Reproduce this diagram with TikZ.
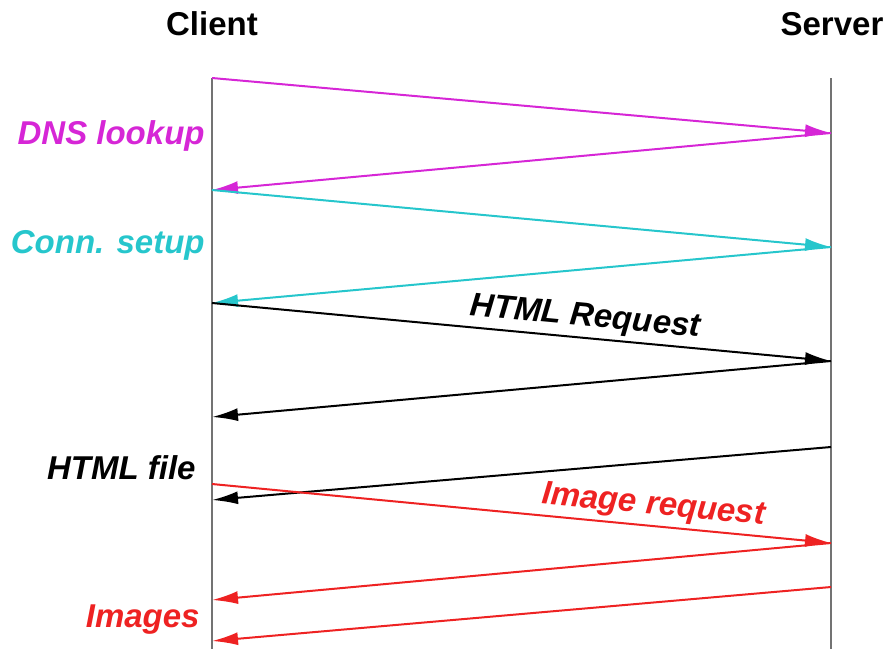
\documentclass[tikz,border=0pt]{standalone}
\usepackage{fontspec}
\setmainfont{Liberation Sans}
\usetikzlibrary{arrows.meta}
\definecolor{dnscol}{RGB}{214,38,214}
\definecolor{conncol}{RGB}{38,198,204}
\definecolor{imgcol}{RGB}{238,34,34}
\definecolor{linecol}{RGB}{115,115,115}

\begin{document}
\begin{tikzpicture}[
    x=0.5pt, y=-0.5pt,
    font=\fontsize{16.5}{19}\selectfont\bfseries,
    lifeline/.style={draw=linecol, line width=1pt},
    arrow/.style={-{Latex[length=13pt, width=6.5pt]}, line width=1pt},
    tag/.style={font=\fontsize{16.5}{19}\selectfont\bfseries\itshape, anchor=east, inner sep=0pt},
    msgtag/.style={font=\fontsize{16.5}{19}\selectfont\bfseries\itshape, sloped, above, inner sep=2pt}
]
\useasboundingbox (0,0) rectangle (887,649);
% endpoints on the two lifelines
\coordinate (ctop) at (212,78);
\coordinate (cbot) at (212,649);
\coordinate (stop) at (831,78);
\coordinate (sbot) at (831,649);
\coordinate (c1) at (212,78);
\coordinate (c2) at (212,190);
\coordinate (c3) at (212,303);
\coordinate (c4) at (212,417);
\coordinate (c5) at (212,484);
\coordinate (c6) at (212,500);
\coordinate (c7) at (212,600);
\coordinate (c8) at (212,641);
\coordinate (s1) at (831,133);
\coordinate (s2) at (831,247);
\coordinate (s3) at (831,361);
\coordinate (s4) at (831,447);
\coordinate (s5) at (831,543);
\coordinate (s6) at (831,587);
\node (client) at (212,24) {Client};
\node (server) at (832,24) {Server};
\draw[lifeline] (ctop) -- (cbot);
\draw[lifeline] (stop) -- (sbot);
% DNS
\draw[arrow, dnscol] (c1) -- (s1);
\draw[arrow, dnscol] (s1) -- (c2);
\node[tag, text=dnscol] (dns) at (205,136) {DNS lookup};
% connection
\draw[arrow, conncol] (c2) -- (s2);
\draw[arrow, conncol] (s2) -- (c3);
\node[tag, text=conncol] (conn) at (205,245) {Conn. setup};
% html
\draw[arrow] (c3) -- node[msgtag, pos=0.6] (req) {HTML Request} (s3);
\draw[arrow] (s3) -- (c4);
\draw[arrow] (s4) -- (c6);
\node[tag] (file) at (196,468) {HTML file};
% images
\draw[arrow, imgcol] (c5) -- node[msgtag, pos=0.71, text=imgcol] (imgreq) {Image request} (s5);
\draw[arrow, imgcol] (s5) -- (c7);
\draw[arrow, imgcol] (s6) -- (c8);
\node[tag, text=imgcol] (imgs) at (200,620) {Images};
\end{tikzpicture}
\end{document}
